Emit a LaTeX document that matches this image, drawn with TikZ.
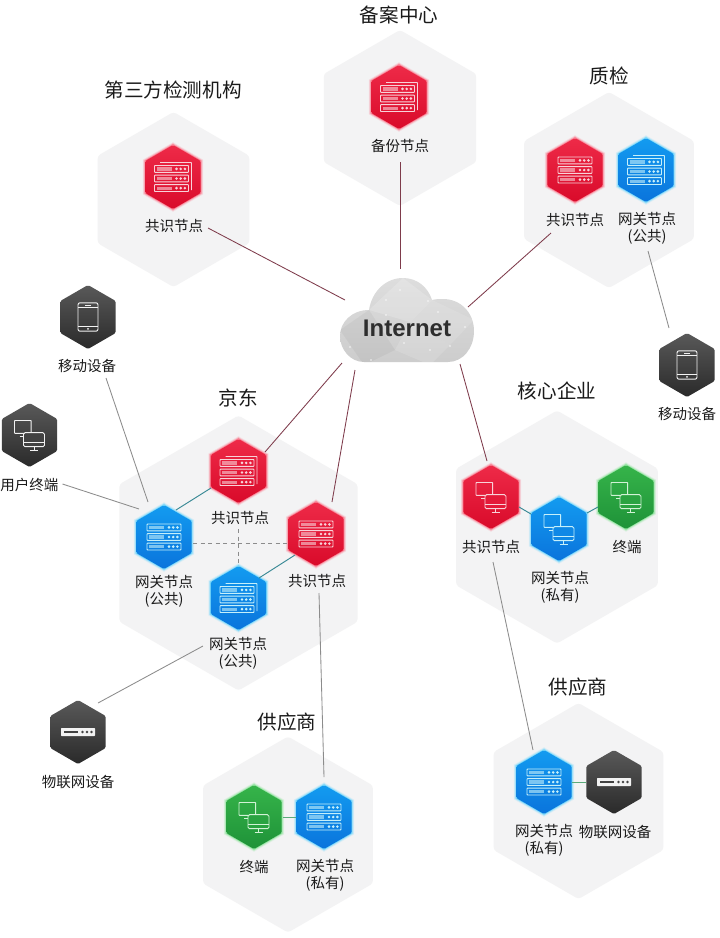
\documentclass[tikz,border=0pt]{standalone}
\usepackage{fontspec}
\setmainfont{Noto Sans CJK SC}
\newfontfamily\latinbold{Liberation Sans}[BoldFont={Liberation Sans Bold}]
\usetikzlibrary{shapes.geometric}
\definecolor{bgc}{HTML}{F3F3F4}
\definecolor{txt}{HTML}{1A1A1A}
\definecolor{lred}{HTML}{7E3B4B}
\definecolor{lgrey}{HTML}{8C8C8C}
\definecolor{lteal}{HTML}{3A8A96}
\definecolor{lgreen}{HTML}{5AAB7A}
\definecolor{rgbhexred}{HTML}{EE2A48}
\definecolor{rgbhexredb}{HTML}{D90A2A}
\definecolor{rgbhexblue}{HTML}{139BF0}
\definecolor{rgbhexblueb}{HTML}{0A74DC}
\definecolor{rgbhexgreen}{HTML}{36B44A}
\definecolor{rgbhexgreenb}{HTML}{1E9238}
\definecolor{rgbhexdark}{HTML}{595959}
\definecolor{rgbhexdarkb}{HTML}{2A2A2A}
\definecolor{iconred}{HTML}{F8D3D9}
\definecolor{iconblue}{HTML}{C6F0FA}
\definecolor{icongreen}{HTML}{D2F2D6}
\definecolor{icondark}{HTML}{F2F2F2}
\definecolor{midred}{HTML}{E41A39}
\definecolor{midblue}{HTML}{0F88E6}
\definecolor{midgreen}{HTML}{2AA341}
\definecolor{middark}{HTML}{424242}
\definecolor{glowred}{HTML}{FF2A4A}
\definecolor{glowblue}{HTML}{1FC4FF}
\definecolor{glowgreen}{HTML}{4AD860}
\tikzset{
  hexbase/.style={regular polygon,regular polygon sides=6,shape border rotate=30,inner sep=0pt,outer sep=0pt,rounded corners=1.5pt},
  bighex/.style={hexbase,fill=bgc,draw=none,rounded corners=3pt},
  hexred/.style={hexbase,minimum size=64pt,top color=rgbhexred,bottom color=rgbhexredb},
  hexblue/.style={hexbase,minimum size=64pt,top color=rgbhexblue,bottom color=rgbhexblueb},
  hexgreen/.style={hexbase,minimum size=64pt,top color=rgbhexgreen,bottom color=rgbhexgreenb},
  hexdark/.style={hexbase,minimum size=64pt,top color=rgbhexdark,bottom color=rgbhexdarkb},
  lab/.style={inner sep=0pt,align=center,text=txt,font=\fontsize{14.5}{17}\selectfont},
  head/.style={inner sep=0pt,text=txt,font=\fontsize{19.6}{22}\selectfont},
  ico/.style={line width=.95pt,rounded corners=.6pt},
  linkred/.style={draw=lred,line width=.85pt},
  linkgrey/.style={draw=lgrey,line width=.85pt},
  linkteal/.style={draw=lteal,line width=.95pt},
  linkgreen/.style={draw=lgreen,line width=.95pt},
  linkdash/.style={draw=lgrey,line width=.85pt,dash pattern=on 4pt off 3.5pt},
}
% hexagon outline as a path
\newcommand\hexout[3]{({#1},{#2-#3}) -- ({#1+.866*#3},{#2-.5*#3}) -- ({#1+.866*#3},{#2+.5*#3}) -- ({#1},{#2+#3}) -- ({#1-.866*#3},{#2+.5*#3}) -- ({#1-.866*#3},{#2-.5*#3}) -- cycle}
\newcommand\halo[3]{\foreach \rr/\oo in {34.8/.10,33.8/.22,32.8/.4}{\fill[#3,opacity=\oo] \hexout{#1}{#2}{\rr};}}
% icons: #1 colour
\newcommand\srvrow[2]{%
  \draw[ico,#2] (-17,{#1-3.4}) rectangle (17,{#1+3.4});
  \fill[#2,opacity=.6] (-15,{#1-1.6}) rectangle (0,{#1+1.6});
  \foreach \dx in {5,9.2,13.4}{\fill[#2] (\dx,#1) circle (1.45);}}
\newcommand\iconServer[3]{\begin{scope}[shift={(#1,#2)}]\srvrow{-9.6}{#3}\srvrow{0}{#3}\srvrow{9.6}{#3}\end{scope}}
\newcommand\iconServerB[3]{\begin{scope}[shift={(#1,#2)}]
  \begin{scope}[shift={(-1.5,1.5)}]\srvrow{-9.6}{#3}\srvrow{0}{#3}\srvrow{9.6}{#3}\end{scope}
  \draw[ico,#3] (-13,-14.5) -- (18.5,-14.5) -- (18.5,13);\end{scope}}
\newcommand\iconMon[4]{\begin{scope}[shift={(#1,#2)}]
  \draw[ico,#3] (-15,-14.5) rectangle (1.7,-1.7);
  \draw[ico,#3] (-10,1) -- (-6,1);
  \draw[ico,#3,fill=#4,rounded corners=1.5pt] (-6,-2.3) rectangle (15,11.7);
  \draw[ico,#3] (-6,7) -- (15,7) (4.5,11.7) -- (4.5,15.2) (0.5,15.2) -- (8.5,15.2);
  \end{scope}}
\newcommand\iconPhone[3]{\begin{scope}[shift={(#1,#2)}]
  \draw[ico,#3,rounded corners=2pt] (-10,-14.2) rectangle (10,14.2);
  \draw[ico,#3] (-10,-9.5) -- (10,-9.5) (-10,9.5) -- (10,9.5) (-3,-12) -- (3,-12);
  \fill[#3] (0,11.9) circle (1);\end{scope}}
\newcommand\iconIot[3]{\begin{scope}[shift={(#1,#2)}]
  \fill[#3,rounded corners=.6pt] (-17,-4) rectangle (17,4);
  \fill[middark] (-14.5,-1.4) rectangle (0,1.4);
  \foreach \dx in {4.5,9,13.5}{\fill[middark] (\dx,0) circle (1.4);}\end{scope}}
\begin{document}
\begin{tikzpicture}[x=1pt,y=-1pt]
\useasboundingbox (0,0) rectangle (720,938);
\fill[white] (0,0) rectangle (720,938);
% background hexagons
\node[bighex,minimum size=175pt] (bgTP) at (173.5,199.5) {};
\node[bighex,minimum size=176pt] (bgBA) at (400,118) {};
\node[bighex,minimum size=196pt] (bgQC) at (609,190) {};
\node[bighex,minimum size=275pt] (bgJD) at (238.5,553) {};
\node[bighex,minimum size=233pt] (bgCO) at (557,527) {};
\node[bighex,minimum size=196pt] (bgSR) at (578.5,801) {};
\node[bighex,minimum size=196pt] (bgSB) at (288,834.5) {};
% headings
\node[head] (hTP) at (173,90) {第三方检测机构};
\node[head] (hBA) at (399,15) {备案中心};
\node[head] (hQC) at (609,76) {质检};
\node[head] (hJD) at (238,398) {京东};
\node[head] (hCO) at (557,391) {核心企业};
\node[head] (hSR) at (578,687) {供应商};
\node[head] (hSB) at (287,722) {供应商};
% halos
\halo{173}{177}{glowred}\halo{399}{97}{glowred}\halo{575}{170}{glowred}\halo{646}{170}{glowblue}
\halo{238.5}{471}{glowred}\halo{164}{537}{glowblue}\halo{316}{534}{glowred}\halo{238.5}{598}{glowblue}
\halo{491}{497}{glowred}\halo{559}{529}{glowblue}\halo{626}{497}{glowgreen}
\halo{544}{782}{glowblue}\halo{254}{817}{glowgreen}\halo{324}{817}{glowblue}
% hexagon nodes
\node[hexred] (nTP) at (173,177) {};
\node[hexred] (nBA) at (399,97) {};
\node[hexred] (nQR) at (575,170) {};
\node[hexblue] (nQB) at (646,170) {};
\node[hexdark] (mobL) at (88,317) {};
\node[hexdark] (termL) at (29.5,435) {};
\node[hexdark] (mobR) at (687,365) {};
\node[hexred] (jdR1) at (238.5,471) {};
\node[hexblue] (jdB1) at (164,537) {};
\node[hexred] (jdR2) at (316,534) {};
\node[hexblue] (jdB2) at (238.5,598) {};
\node[hexdark] (iotL) at (78,732) {};
\node[hexred] (coR) at (491,497) {};
\node[hexblue] (coB) at (559,529) {};
\node[hexgreen] (coG) at (626,497) {};
\node[hexblue] (srB) at (544,782) {};
\node[hexdark] (srD) at (614,782) {};
\node[hexgreen] (sbG) at (254,817) {};
\node[hexblue] (sbB) at (324,817) {};
% icons
\iconServerB{173}{177}{iconred}
\iconServerB{399}{97}{iconred}
\iconServer{575}{170}{iconred}
\iconServerB{646}{170}{iconblue}
\iconPhone{88}{317}{icondark}
\iconMon{29.5}{435}{icondark}{middark}
\iconPhone{687}{365}{icondark}
\iconServerB{238.5}{471}{iconred}
\iconServer{164}{537}{iconblue}
\iconServer{316}{534}{iconred}
\iconServerB{238.5}{598}{iconblue}
\iconIot{78}{732}{icondark}
\iconMon{491}{497}{iconred}{midred}
\iconMon{559}{529}{iconblue}{midblue}
\iconMon{626}{497}{icongreen}{midgreen}
\iconServer{544}{782}{iconblue}
\iconIot{614}{782}{icondark}
\iconMon{254}{817}{icongreen}{midgreen}
\iconServer{324}{817}{iconblue}
% labels
\node[lab] (lTP) at (174,226) {共识节点};
\node[lab] (lBA) at (400,146) {备份节点};
\node[lab] (lQR) at (575,220) {共识节点};
\node[lab] (lQB) at (647,228.5) {网关节点\\(公共)};
\node[lab] (lMobL) at (87,366) {移动设备};
\node[lab] (lTerm) at (29.5,485) {用户终端};
\node[lab] (lMobR) at (687,414) {移动设备};
\node[lab] (lJR1) at (240,518) {共识节点};
\node[lab] (lJB1) at (164,591.5) {网关节点\\(公共)};
\node[lab] (lJR2) at (317,581) {共识节点};
\node[lab] (lJB2) at (238,653.5) {网关节点\\(公共)};
\node[lab] (lIotL) at (78,782) {物联网设备};
\node[lab] (lCR) at (491,547) {共识节点};
\node[lab] (lCB) at (560,587.5) {网关节点\\(私有)};
\node[lab] (lCG) at (627,547) {终端};
\node[lab] (lSRB) at (544,840) {网关节点\\(私有)};
\node[lab] (lSRD) at (615,832) {物联网设备};
\node[lab] (lSBG) at (254,867) {终端};
\node[lab] (lSBB) at (325,875) {网关节点\\(私有)};
% cloud
\def\cloudshape{(364,362) .. controls (350,362) and (340,349) .. (340,336) .. controls (340,322) and (352,310) .. (369,310)
  .. controls (372,291) and (386,278) .. (403,278) .. controls (417,278) and (428,287) .. (432,300)
  .. controls (436,299) and (440,299) .. (443,299) .. controls (461,299) and (474,313) .. (474,331)
  .. controls (474,348) and (463,362) .. (448,362) -- cycle}
\begin{scope}
  \clip \cloudshape;
  \shade[top color=black!13,bottom color=black!20] (335,275) rectangle (480,365);
  \fill[white,opacity=.18] (369,310) -- (403,278) -- (432,300) -- (410,322) -- cycle;
  \fill[white,opacity=.12] (432,300) -- (474,320) -- (450,345) -- (410,322) -- cycle;
  \fill[black,opacity=.04] (340,330) -- (369,310) -- (395,350) -- (364,365) -- cycle;
  \fill[white,opacity=.14] (395,350) -- (410,322) -- (450,345) -- (430,365) -- cycle;
  \foreach \px/\py in {386/300,428/301,438/312,386/315,465/327,350/347,404/343,450/346,430/350,371/360,400/290}{\fill[white,opacity=.8] (\px,\py) circle (.9);}
\end{scope}
\node[inner sep=0pt,text=black!82,font={\fontsize{24}{28}\selectfont\latinbold\bfseries}] (cloud) at (407,328) {Internet};
% connectors
\draw[linkred] ([shift={(34,2)}]lTP.center) -- ([shift={(-62,-28)}]cloud.center);
\draw[linkred] ([shift={(0,16)}]lBA.center) -- ([shift={(-7,-59)}]cloud.center);
\draw[linkred] ([shift={(-24,13)}]lQR.center) -- ([shift={(61,-21)}]cloud.center);
\draw[linkgrey] ([shift={(1,22.5)}]lQB.center) -- ([shift={(-18,-37)}]mobR.center);
\draw[linkred] ([shift={(26.5,-19)}]jdR1.center) -- ([shift={(-65,35)}]cloud.center);
\draw[linkred] ([shift={(16,-32)}]jdR2.center) -- ([shift={(-52,42)}]cloud.center);
\draw[linkred] ([shift={(-4,-36)}]coR.center) -- ([shift={(53,36)}]cloud.center);
\draw[linkgrey] ([shift={(19,12)}]lMobL.center) -- ([shift={(-16,-35)}]jdB1.center);
\draw[linkgrey] ([shift={(33,-1)}]lTerm.center) -- ([shift={(-25,-28)}]jdB1.center);
\draw[linkgrey] ([shift={(-35,-7.5)}]lJB2.center) -- ([shift={(20,-29)}]iotL.center);
\draw[linkgrey] ([shift={(2,12)}]lJR2.center) -- ([shift={(0,-40)}]sbB.center);
\draw[linkgrey] ([shift={(2,15)}]lCR.center) -- ([shift={(-11,-32)}]srB.center);
\draw[linkteal] ([shift={(-27.5,17)}]jdR1.center) -- ([shift={(12,-27)}]jdB1.center);
\draw[linkteal] ([shift={(-21,21)}]jdR2.center) -- ([shift={(20.5,-20)}]jdB2.center);
\draw[linkdash] ([shift={(29,6)}]jdB1.center) -- ([shift={(-29,9)}]jdR2.center);
\draw[linkdash] ([shift={(-.5,58)}]jdR1.center) -- ([shift={(-.5,-33)}]jdB2.center);
\draw[linkteal] ([shift={(28,10)}]coR.center) -- ([shift={(-28,-15)}]coB.center);
\draw[linkteal] ([shift={(28,-16)}]coB.center) -- ([shift={(-28,10)}]coG.center);
\draw[linkgreen] ([shift={(28,0)}]srB.center) -- ([shift={(-28,0)}]srD.center);
\draw[linkgreen] ([shift={(29,0)}]sbG.center) -- ([shift={(-28,0)}]sbB.center);
\end{tikzpicture}
\end{document}
